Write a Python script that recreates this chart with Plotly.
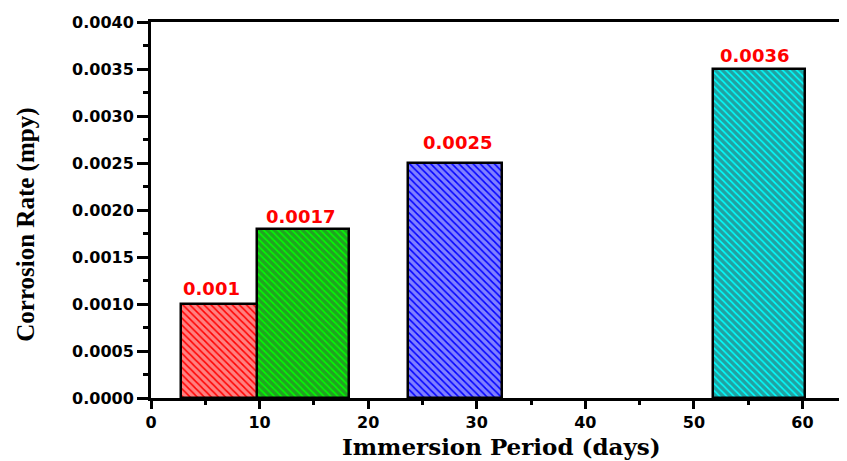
import plotly.graph_objects as go

# ---- data ----
days = [7, 14, 28, 56]                      # bar centres (immersion period, days)
bar_width = [8.4, 8.4, 8.6, 8.4]
rates = [0.0010, 0.0018, 0.0025, 0.0035]    # corrosion rate (mpy)
value_labels = ["0.001", "0.0017", "0.0025", "0.0036"]
bar_colors = ["#FF0000", "#00FF00", "#0000FF", "#00FFFF"]
x_ticks = [0, 10, 20, 30, 40, 50, 60]
y_ticks = [0.0, 0.0005, 0.0010, 0.0015, 0.0020, 0.0025, 0.0030, 0.0035, 0.0040]

# label placement tweaks (pixels) - style only
label_xshift = [-16, -3, 2, -5]
label_yshift = [3, 0, 8, 1]

fig = go.Figure()
fig.add_trace(go.Bar(
    x=days, y=rates, width=bar_width,
    marker=dict(
        color=bar_colors,
        line=dict(color="black", width=2.5),
        pattern=dict(shape="\\", fillmode="overlay", fgcolor="black",
                     size=5, solidity=0.7),
    ),
    showlegend=False, hoverinfo="x+y",
))

for xv, yv, txt, dx, dy in zip(days, rates, value_labels, label_xshift, label_yshift):
    fig.add_annotation(
        x=xv, y=yv, text=txt, showarrow=False, xanchor="center", yanchor="bottom",
        xshift=dx, yshift=dy,
        font=dict(family="DejaVu Sans", size=18, color="#FF0000", weight="bold"),
    )

fig.add_annotation(
    xref="paper", yref="paper", x=-0.18, y=0.46, textangle=-90,
    text="Corrosion Rate (mpy)", showarrow=False, xanchor="center", yanchor="middle",
    font=dict(family="Liberation Serif", size=25, color="black", weight="bold"),
)
fig.add_annotation(
    xref="paper", yref="paper", x=0.5043, y=-0.128,
    text="Immersion Period (days)", showarrow=False, xanchor="center", yanchor="middle",
    font=dict(family="DejaVu Serif", size=23, color="black", weight="bold"),
)

tick_font = dict(family="DejaVu Sans", size=16, color="black", weight="bold")

fig.update_xaxes(
    range=[0, 64.1], tickvals=x_ticks, ticktext=[str(v) for v in x_ticks],
    showline=True, linecolor="black", linewidth=3, mirror=True,
    ticks="outside", ticklen=8, tickwidth=2.5, tickcolor="black",
    minor=dict(ticks="outside", dtick=5, ticklen=4, tickwidth=2.5, tickcolor="black"),
    showgrid=False, zeroline=False, tickfont=tick_font,
)
fig.update_yaxes(
    range=[0, 0.0040], tickvals=y_ticks, ticktext=[f"{v:.4f}" for v in y_ticks],
    showline=True, linecolor="black", linewidth=3, mirror=False,
    ticks="outside", ticklen=11, tickwidth=2.5, tickcolor="black",
    minor=dict(ticks="outside", dtick=0.00025, ticklen=5, tickwidth=2.5, tickcolor="black"),
    showgrid=False, zeroline=False, tickfont=tick_font,
)

# page body has an 8px margin, so the figure is sized to fit the 847x461 window
fig.update_layout(
    width=839, height=453,
    margin=dict(l=143, r=0, t=14, b=63, pad=0),
    paper_bgcolor="white", plot_bgcolor="white",
    bargap=0,
)

fig.write_html("out.html")
